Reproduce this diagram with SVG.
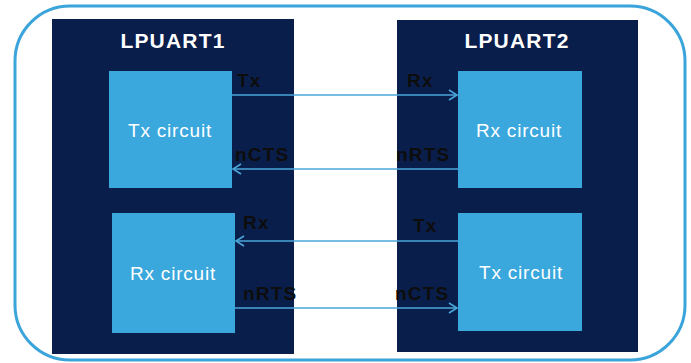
<svg xmlns="http://www.w3.org/2000/svg" width="691" height="363" viewBox="0 0 691 363">
<style>
.frame{fill:#ffffff;stroke:#3ba4da;stroke-width:3}
.lp{fill:#0a1e4c}
.blk{fill:#3aa7dd}
.title{font-family:"Liberation Sans",Arial,sans-serif;font-weight:bold;font-size:21px;fill:#ffffff;text-anchor:middle;letter-spacing:1.2px}
.cir{font-family:"Liberation Sans",Arial,sans-serif;font-size:19px;fill:#ffffff;text-anchor:middle;letter-spacing:0.8px}
.sig{font-family:"Liberation Sans",Arial,sans-serif;font-weight:bold;font-size:19px;fill:#0d0d0d;letter-spacing:1.2px}
.wire{stroke:#4aa6d8;stroke-width:1.6;fill:none}
</style>
<defs>
<marker id="arr" markerUnits="userSpaceOnUse" markerWidth="12" markerHeight="14" refX="9" refY="6" orient="auto">
<path d="M1,1 L9,6 L1,11" fill="none" stroke="#4aa6d8" stroke-width="1.6"/>
</marker>
</defs>
<rect class="frame" x="15" y="6" width="670" height="354" rx="55" ry="55"/>
<g id="lpuart1">
<rect class="lp" x="52" y="19" width="242" height="335"/>
<text class="title" x="173" y="48">LPUART1</text>
</g>
<g id="lpuart2">
<rect class="lp" x="397" y="20" width="241" height="332"/>
<text class="title" x="517" y="48">LPUART2</text>
</g>
<g id="tx1">
<rect class="blk" x="109" y="71" width="123" height="117"/>
<text class="cir" x="170" y="137">Tx circuit</text>
</g>
<g id="rx1">
<rect class="blk" x="112" y="213" width="123" height="120"/>
<text class="cir" x="173" y="280">Rx circuit</text>
</g>
<g id="rx2">
<rect class="blk" x="458" y="71" width="124" height="117"/>
<text class="cir" x="519" y="137">Rx circuit</text>
</g>
<g id="tx2">
<rect class="blk" x="458" y="213" width="124" height="118"/>
<text class="cir" x="521" y="279">Tx circuit</text>
</g>
<g id="connectors">
<line class="wire" x1="232" y1="95" x2="457" y2="95" marker-end="url(#arr)"/>
<line class="wire" x1="458" y1="169" x2="233" y2="169" marker-end="url(#arr)"/>
<line class="wire" x1="458" y1="241" x2="236" y2="241" marker-end="url(#arr)"/>
<line class="wire" x1="235" y1="308" x2="457" y2="308" marker-end="url(#arr)"/>
</g>
<g id="labels">
<text class="sig" x="237" y="87">Tx</text>
<text class="sig" x="235" y="161">nCTS</text>
<text class="sig" x="407" y="87">Rx</text>
<text class="sig" x="396" y="161">nRTS</text>
<text class="sig" x="243" y="229">Rx</text>
<text class="sig" x="243" y="300">nRTS</text>
<text class="sig" x="413" y="232">Tx</text>
<text class="sig" x="395" y="300">nCTS</text>
</g>
</svg>
